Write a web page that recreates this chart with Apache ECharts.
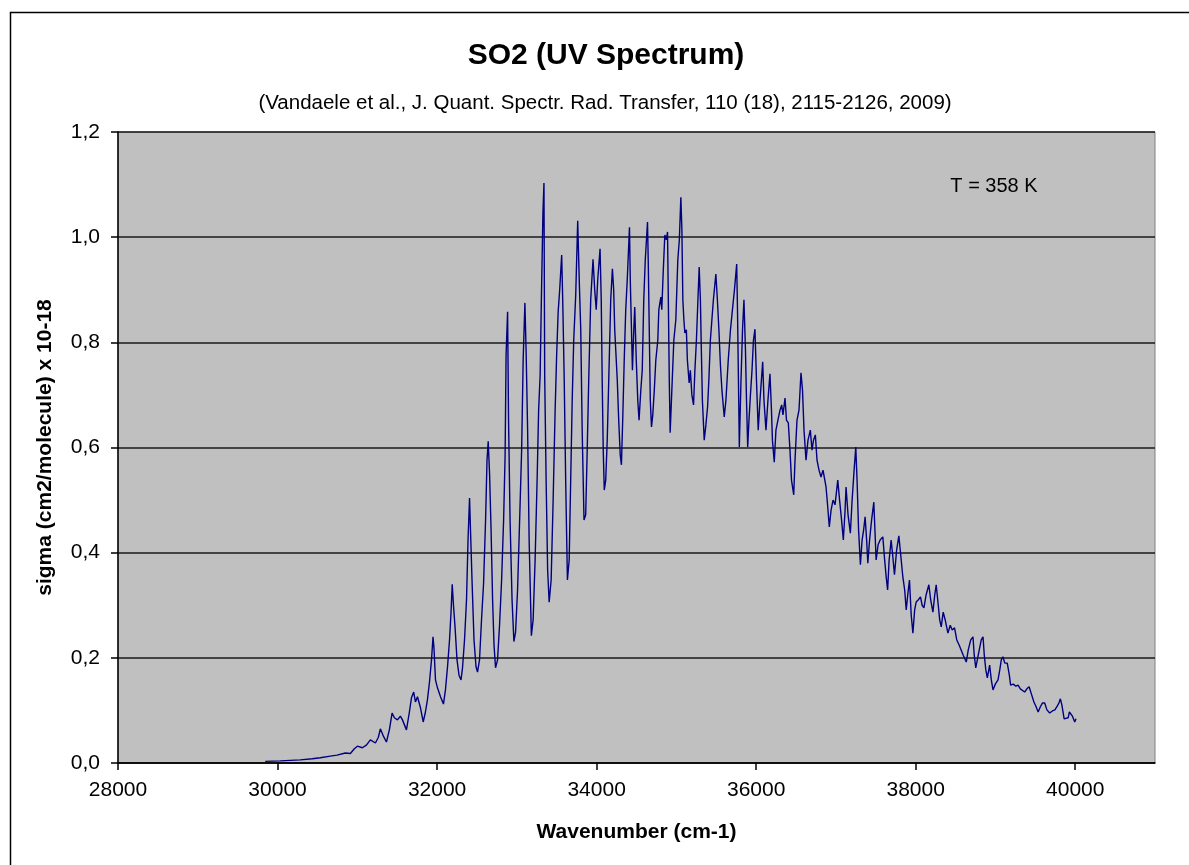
<!DOCTYPE html>
<html>
<head>
<meta charset="utf-8">
<script src="https://cdn.jsdelivr.net/npm/echarts@6/dist/echarts.min.js"></script>
<style>
html,body{margin:0;padding:0;background:#fff;}
#chart{width:1189px;height:865px;}
</style>
</head>
<body>
<div id="chart"></div>
<script>
const titleText = "SO2 (UV Spectrum)";
const subtitleText = "(Vandaele et al., J. Quant. Spectr. Rad. Transfer, 110 (18), 2115-2126, 2009)";
const annotationText = "T = 358 K";
const xAxisName = "Wavenumber (cm-1)";
const yAxisName = "sigma (cm2/molecule) x 10-18";
const xTicks = [28000, 30000, 32000, 34000, 36000, 38000, 40000];
const yTicks = [0, 0.2, 0.4, 0.6, 0.8, 1.0, 1.2];

const wavenumber = [
29846,30034,30285,30436,30536,30662,30746,30850,30913,30963,31001,31063,31114,31164,31227,31264,31289,31327,31365,31402,
31436,31465,31503,31540,31566,31616,31653,31679,31707,31729,31754,31792,31826,31854,31879,31905,31930,31949,31961,31980,
32005,32043,32080,32105,32131,32156,32175,32190,32206,32225,32250,32275,32300,32319,32344,32369,32388,32407,32419,32438,
32463,32488,32507,32532,32557,32583,32608,32626,32641,32658,32677,32696,32714,32733,32758,32783,32809,32834,32853,32865,
32884,32896,32915,32940,32963,32984,33009,33035,33060,33079,33101,33116,33135,33154,33182,33204,33229,33254,33273,33292,
33307,33327,33340,33349,33367,33386,33405,33430,33455,33480,33499,33518,33537,33562,33575,33594,33612,33634,33656,33675,
33694,33713,33738,33763,33782,33801,33819,33842,33863,33882,33901,33926,33955,33976,33995,34014,34043,34058,34070,34083,
34096,34114,34133,34152,34177,34198,34214,34227,34240,34259,34277,34296,34311,34327,34346,34365,34384,34412,34422,34434,
34449,34466,34478,34497,34516,34532,34554,34572,34591,34610,34638,34648,34660,34673,34688,34704,34723,34742,34767,34780,
34805,34817,34836,34855,34874,34889,34899,34911,34922,34943,34968,34993,35018,35037,35056,35069,35081,35094,35106,35125,
35138,35160,35175,35194,35215,35232,35251,35270,35286,35301,35313,35326,35349,35370,35391,35407,35426,35445,35464,35495,
35514,35533,35552,35571,35600,35621,35650,35678,35706,35728,35756,35766,35778,35789,35810,35829,35847,35866,35879,35894,
35910,35926,35948,35966,35985,36004,36026,36048,36082,36098,36123,36148,36173,36192,36204,36227,36248,36273,36299,36320,
36336,36362,36380,36403,36424,36443,36471,36487,36512,36537,36562,36581,36600,36625,36650,36679,36700,36719,36742,36763,
36788,36813,36838,36876,36895,36917,36939,36964,36989,37023,37046,37071,37093,37115,37127,37152,37181,37203,37228,37249,
37265,37284,37307,37328,37347,37366,37385,37400,37422,37447,37475,37489,37504,37529,37554,37588,37611,37630,37648,37667,
37692,37711,37734,37761,37789,37812,37839,37862,37881,37900,37922,37944,37965,37987,38006,38031,38060,38081,38103,38131,
38165,38188,38216,38239,38257,38283,38301,38320,38345,38370,38404,38433,38458,38487,38515,38546,38571,38596,38634,38659,
38690,38718,38734,38753,38772,38797,38822,38844,38860,38879,38898,38927,38948,38969,38998,39032,39054,39073,39094,39117,
39148,39174,39190,39224,39255,39283,39312,39337,39366,39394,39422,39451,39482,39507,39535,39563,39588,39617,39645,39680,
39714,39745,39770,39795,39814,39833,39861,39884,39911,39927,39944,39965,39994,40009
];
const sigma = [
0.003,0.004,0.006,0.008,0.010,0.013,0.015,0.019,0.018,0.027,0.032,0.029,0.034,0.044,0.038,0.049,0.065,0.051,0.040,0.063,
0.095,0.086,0.082,0.089,0.082,0.063,0.097,0.124,0.135,0.116,0.126,0.105,0.078,0.097,0.120,0.154,0.196,0.240,0.219,0.158,
0.143,0.126,0.112,0.139,0.183,0.234,0.287,0.340,0.299,0.259,0.196,0.167,0.158,0.181,0.234,0.310,0.424,0.504,0.443,0.348,
0.234,0.183,0.173,0.196,0.272,0.342,0.462,0.576,0.612,0.550,0.443,0.310,0.224,0.181,0.196,0.262,0.348,0.462,0.586,0.776,
0.858,0.652,0.462,0.310,0.231,0.249,0.329,0.462,0.595,0.766,0.875,0.785,0.633,0.424,0.242,0.272,0.386,0.538,0.671,0.738,
0.877,1.046,1.103,0.738,0.538,0.367,0.306,0.348,0.500,0.671,0.776,0.858,0.900,0.966,0.881,0.728,0.538,0.348,0.386,0.538,
0.690,0.804,0.890,1.031,0.919,0.824,0.633,0.462,0.472,0.595,0.728,0.881,0.958,0.900,0.862,0.919,0.978,0.881,0.728,0.595,
0.519,0.538,0.614,0.728,0.881,0.940,0.900,0.824,0.785,0.728,0.652,0.586,0.567,0.652,0.766,0.862,0.919,1.019,0.919,0.843,
0.747,0.824,0.867,0.766,0.690,0.652,0.709,0.747,0.881,0.957,1.029,0.947,0.824,0.690,0.639,0.662,0.709,0.766,0.804,0.862,
0.886,0.862,0.938,1.004,0.995,1.010,0.881,0.728,0.628,0.709,0.804,0.843,0.957,0.995,1.076,1.014,0.881,0.843,0.818,0.824,
0.766,0.723,0.747,0.700,0.681,0.747,0.804,0.881,0.943,0.881,0.785,0.690,0.614,0.643,0.677,0.728,0.804,0.843,0.881,0.930,
0.881,0.824,0.757,0.709,0.658,0.690,0.766,0.824,0.867,0.900,0.949,0.862,0.728,0.601,0.728,0.824,0.881,0.785,0.690,0.601,
0.652,0.694,0.747,0.804,0.825,0.728,0.633,0.690,0.763,0.690,0.633,0.690,0.740,0.671,0.614,0.572,0.633,0.652,0.671,0.681,
0.662,0.694,0.652,0.647,0.595,0.538,0.510,0.576,0.652,0.671,0.742,0.709,0.633,0.576,0.614,0.633,0.595,0.614,0.624,0.576,
0.557,0.544,0.557,0.525,0.491,0.449,0.481,0.500,0.491,0.538,0.500,0.462,0.424,0.481,0.525,0.472,0.437,0.500,0.557,0.601,
0.538,0.443,0.377,0.424,0.443,0.468,0.424,0.380,0.424,0.462,0.496,0.443,0.386,0.415,0.424,0.430,0.386,0.354,0.329,0.386,
0.424,0.396,0.358,0.405,0.432,0.396,0.354,0.329,0.291,0.319,0.348,0.281,0.247,0.291,0.306,0.310,0.316,0.300,0.295,0.320,
0.339,0.310,0.287,0.320,0.339,0.300,0.272,0.259,0.287,0.272,0.247,0.262,0.253,0.257,0.234,0.224,0.221,0.205,0.192,0.215,
0.234,0.240,0.205,0.181,0.181,0.215,0.234,0.240,0.205,0.177,0.162,0.186,0.158,0.139,0.150,0.158,0.177,0.196,0.202,0.190,
0.190,0.167,0.148,0.150,0.146,0.148,0.141,0.143,0.135,0.141,0.145,0.131,0.116,0.108,0.097,0.107,0.114,0.114,0.101,0.095,
0.099,0.101,0.107,0.114,0.122,0.110,0.084,0.084,0.086,0.097,0.099,0.089,0.078,0.084
];

const seriesData = wavenumber.map((w, i) => [w, sigma[i]]);

const FONT = '"Liberation Sans", Arial, sans-serif';
const chart = echarts.init(document.getElementById('chart'), null, {renderer: 'canvas'});
chart.setOption({
  animation: false,
  backgroundColor: '#ffffff',
  textStyle: {fontFamily: FONT},
  grid: {
    left: 118, top: 132, right: 34, bottom: 102,
    show: true, backgroundColor: '#C0C0C0', borderColor: '#808080', borderWidth: 1
  },
  graphic: [
    {type: 'rect', left: 8, top: 10, z: -10, silent: true,
     shape: {width: 1200, height: 900}, style: {fill: 'none', stroke: '#000', lineWidth: 1.5}},
    {type: 'text', x: 606, y: 56, silent: true,
     style: {text: titleText, font: 'bold 30px ' + FONT, fill: '#000', textAlign: 'center', textVerticalAlign: 'middle'}},
    {type: 'text', x: 605, y: 103, silent: true,
     style: {text: subtitleText, font: '20.5px ' + FONT, fill: '#000', textAlign: 'center', textVerticalAlign: 'middle'}},
    {type: 'text', x: 994, y: 186, silent: true, z: 10,
     style: {text: annotationText, font: '20px ' + FONT, fill: '#000', textAlign: 'center', textVerticalAlign: 'middle'}}
  ],
  xAxis: {
    type: 'value', min: 28000, max: 41000, interval: 2000,
    name: xAxisName, nameLocation: 'middle', nameGap: 59,
    nameTextStyle: {fontWeight: 'bold', fontSize: 21, color: '#000', fontFamily: FONT},
    axisLine: {show: true, onZero: false, lineStyle: {color: '#000', width: 1.5}},
    axisTick: {show: true, inside: false, length: 7, customValues: xTicks, lineStyle: {color: '#000', width: 1.5}},
    axisLabel: {margin: 17, fontSize: 21, color: '#000', fontFamily: FONT, customValues: xTicks,
      formatter: v => String(v)},
    splitLine: {show: false}
  },
  yAxis: {
    type: 'value', min: 0, max: 1.2, interval: 0.2,
    name: yAxisName, nameLocation: 'middle', nameGap: 62, nameRotate: 90,
    nameTextStyle: {fontWeight: 'bold', fontSize: 21, color: '#000', fontFamily: FONT},
    axisLine: {show: true, lineStyle: {color: '#000', width: 1.5}},
    axisTick: {show: true, inside: false, length: 7, lineStyle: {color: '#000', width: 1.5}},
    axisLabel: {margin: 18, fontSize: 21, color: '#000', fontFamily: FONT,
      formatter: v => v.toFixed(1).replace('.', ',')},
    splitLine: {show: true, lineStyle: {color: '#1a1a1a', width: 1.5}}
  },
  series: [{
    type: 'line', data: seriesData, showSymbol: false, symbol: 'none',
    lineStyle: {color: '#000080', width: 1.4}, smooth: false, z: 5
  }]
});
</script>
</body>
</html>
